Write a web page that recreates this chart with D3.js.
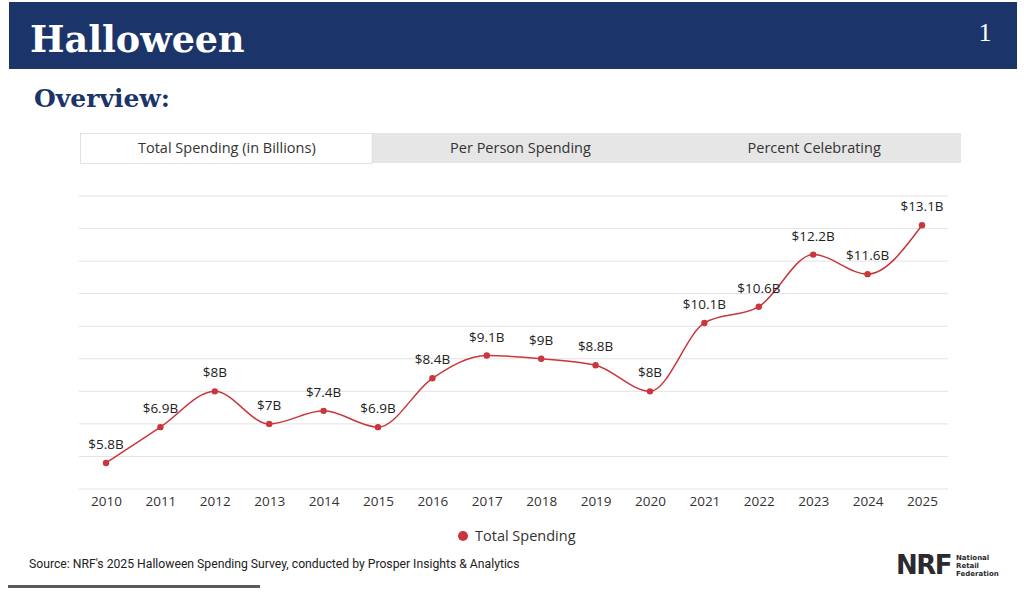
<!DOCTYPE html>
<html>
<head>
<meta charset="utf-8">
<script src="https://cdn.jsdelivr.net/npm/d3@7"></script>
<style>
  body { margin: 0; background: #fff; }
  svg { display: block; }
</style>
</head>
<body>
<script>
var years = ["2010","2011","2012","2013","2014","2015","2016","2017","2018","2019","2020","2021","2022","2023","2024","2025"];
var spending = [5.8, 6.9, 8.0, 7.0, 7.4, 6.9, 8.4, 9.1, 9.0, 8.8, 8.0, 10.1, 10.6, 12.2, 11.6, 13.1];
var tabNames = ["Total Spending (in Billions)", "Per Person Spending", "Percent Celebrating"];
var yTicks = [5, 6, 7, 8, 9, 10, 11, 12, 13, 14];

var navy = "#1b3469";
var red = "#c9363c";
var sans = "'Open Sans', 'Noto Sans', sans-serif";
var serif = "'DejaVu Serif', 'Liberation Serif', serif";

var svg = d3.select("body").append("svg").attr("width", 1024).attr("height", 595);

// header band
svg.append("rect").attr("x", 9).attr("y", 2).attr("width", 1008).attr("height", 67).attr("fill", navy);
svg.append("text").attr("x", 30).attr("y", 52)
  .attr("font-family", serif).attr("font-weight", "bold").attr("font-size", 36.5)
  .attr("fill", "#fff").text("Halloween");
svg.append("text").attr("x", 985).attr("y", 41).attr("text-anchor", "middle")
  .attr("font-family", "'Liberation Serif', serif").attr("font-size", 26)
  .attr("fill", "#fff").text("1");
svg.append("text").attr("x", 34).attr("y", 107)
  .attr("font-family", serif).attr("font-weight", "bold").attr("font-size", 25)
  .attr("fill", navy).text("Overview:");

// tabs
var tabX = d3.scaleBand().domain(tabNames).range([80, 961]);
svg.append("rect").attr("x", 80).attr("y", 133).attr("width", 881).attr("height", 30).attr("fill", "#e6e6e6");
svg.append("rect").attr("x", tabX(tabNames[0]) + 0.5).attr("y", 133.5)
  .attr("width", tabX.bandwidth() - 2).attr("height", 30)
  .attr("fill", "#fff").attr("stroke", "#e2e2e2");
svg.selectAll("text.tab")
  .data(tabNames)
  .enter().append("text")
  .attr("class", "tab")
  .attr("x", function(d) { return tabX(d) + tabX.bandwidth() / 2; })
  .attr("y", 153)
  .attr("text-anchor", "middle")
  .attr("font-family", sans).attr("font-size", 14.5)
  .attr("fill", "#333")
  .text(function(d) { return d; });

// chart
var x = d3.scalePoint().domain(years).range([106, 922]);
var y = d3.scaleLinear().domain([5, 14]).range([489, 196]);

svg.append("g")
  .selectAll("line")
  .data(yTicks)
  .enter().append("line")
  .attr("x1", 79).attr("x2", 948)
  .attr("y1", function(d) { return y(d); })
  .attr("y2", function(d) { return y(d); })
  .attr("stroke", "#e3e3e3").attr("stroke-width", 1);

var xAxis = svg.append("g")
  .attr("transform", "translate(0,489)")
  .call(d3.axisBottom(x).tickSize(0).tickPadding(7));
xAxis.select(".domain").remove();
xAxis.selectAll("text")
  .attr("font-family", sans).attr("font-size", 13.5)
  .attr("fill", "#333");

var line = d3.line()
  .x(function(d, i) { return x(years[i]); })
  .y(function(d) { return y(d); })
  .curve(d3.curveMonotoneX);

svg.append("path")
  .datum(spending)
  .attr("d", line)
  .attr("fill", "none")
  .attr("stroke", red).attr("stroke-width", 1.5);

svg.selectAll("circle.pt")
  .data(spending)
  .enter().append("circle")
  .attr("class", "pt")
  .attr("cx", function(d, i) { return x(years[i]); })
  .attr("cy", function(d) { return y(d); })
  .attr("r", 3.2)
  .attr("fill", red);

svg.selectAll("text.lbl")
  .data(spending)
  .enter().append("text")
  .attr("class", "lbl")
  .attr("x", function(d, i) { return x(years[i]); })
  .attr("y", function(d) { return y(d) - 14; })
  .attr("text-anchor", "middle")
  .attr("font-family", sans).attr("font-size", 13.5)
  .attr("fill", "#222")
  .text(function(d) { return "$" + d3.format("~g")(d) + "B"; });

// legend
svg.append("circle").attr("cx", 463).attr("cy", 536).attr("r", 5).attr("fill", red);
svg.append("text").attr("x", 475).attr("y", 541)
  .attr("font-family", sans).attr("font-size", 14.5)
  .attr("fill", "#333").text("Total Spending");

// footer
svg.append("text").attr("x", 29).attr("y", 568)
  .attr("font-family", "Roboto, sans-serif").attr("font-size", 12.2)
  .attr("fill", "#222")
  .text("Source: NRF's 2025 Halloween Spending Survey, conducted by Prosper Insights & Analytics");
svg.append("rect").attr("x", 8).attr("y", 585).attr("width", 252).attr("height", 3).attr("fill", "#5a5a5a");

// NRF mark
svg.append("text").attr("x", 896).attr("y", 574)
  .attr("font-family", "'DejaVu Sans', sans-serif").attr("font-weight", "bold")
  .attr("font-size", 26).attr("letter-spacing", -1.5)
  .attr("fill", "#2b2b2f").text("NRF");
svg.append("text").selectAll("tspan")
  .data(["National", "Retail", "Federation"])
  .enter().append("tspan")
  .attr("x", 956)
  .attr("y", function(d, i) { return 560 + i * 8; })
  .attr("font-family", "'DejaVu Sans', sans-serif").attr("font-weight", "bold")
  .attr("font-size", 7)
  .attr("fill", "#2b2b2f")
  .text(function(d) { return d; });
</script>
</body>
</html>
